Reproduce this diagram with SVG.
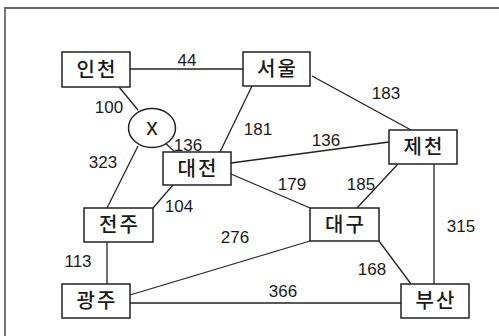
<svg xmlns="http://www.w3.org/2000/svg" width="499" height="336" viewBox="0 0 499 336">
<style>
.node rect,.node ellipse{fill:#fff;stroke:#222;stroke-width:1.5}
.node text{font-family:"Noto Sans CJK KR","Noto Sans",sans-serif;font-size:20px;font-weight:500;fill:#1a1a1a;text-anchor:middle;letter-spacing:2px}
#edges line{stroke:#222;stroke-width:1.3}
.lbl{font-family:"Liberation Sans",Arial,sans-serif;font-size:17px;fill:#1a1a1a;text-anchor:middle}
</style>
<rect width="499" height="336" fill="#fff"/>
<path d="M5,336 V8 H499" fill="none" stroke="#666" stroke-width="1.8"/>
<g id="edges">
<line x1="130" y1="69" x2="243" y2="69"/>
<line x1="119" y1="87" x2="138" y2="110"/>
<line x1="163" y1="141" x2="175" y2="152"/>
<line x1="138" y1="146" x2="107" y2="208"/>
<line x1="252" y1="86" x2="220" y2="152"/>
<line x1="312" y1="76" x2="411" y2="130"/>
<line x1="231" y1="163" x2="389" y2="142"/>
<line x1="231" y1="174" x2="310" y2="208"/>
<line x1="173" y1="185" x2="153" y2="208"/>
<line x1="398" y1="164" x2="357" y2="208"/>
<line x1="434" y1="164" x2="434" y2="284"/>
<line x1="379" y1="241" x2="411" y2="284"/>
<line x1="130" y1="295" x2="310" y2="241"/>
<line x1="130" y1="303" x2="401" y2="303"/>
<line x1="107" y1="242" x2="107" y2="284"/>
</g>
<g id="labels">
<text class="lbl" x="187" y="66">44</text>
<text class="lbl" x="109" y="113">100</text>
<text class="lbl" x="188" y="151">136</text>
<text class="lbl" x="103" y="168">323</text>
<text class="lbl" x="258" y="135">181</text>
<text class="lbl" x="386" y="99">183</text>
<text class="lbl" x="326" y="146">136</text>
<text class="lbl" x="179" y="212">104</text>
<text class="lbl" x="235" y="243">276</text>
<text class="lbl" x="78" y="267">113</text>
<text class="lbl" x="292" y="190">179</text>
<text class="lbl" x="361" y="190">185</text>
<text class="lbl" x="461" y="232">315</text>
<text class="lbl" x="372" y="275">168</text>
<text class="lbl" x="283" y="297">366</text>
</g>
<g id="incheon" class="node"><rect x="62" y="52" width="68" height="35"/><text x="97" y="77">인천</text></g>
<g id="seoul" class="node"><rect x="243" y="52" width="67" height="34"/><text x="277.5" y="76">서울</text></g>
<g id="x" class="node"><ellipse cx="152" cy="128" rx="23.5" ry="19.5"/><text x="152" y="135" style="font-family:'Liberation Sans',Arial,sans-serif;font-size:23px;font-weight:400;letter-spacing:0">x</text></g>
<g id="daejeon" class="node"><rect x="163" y="152" width="68" height="33"/><text x="198" y="176">대전</text></g>
<g id="jecheon" class="node"><rect x="389" y="130" width="68" height="34"/><text x="424" y="154">제천</text></g>
<g id="jeonju" class="node"><rect x="84" y="208" width="69" height="34"/><text x="119.5" y="232">전주</text></g>
<g id="daegu" class="node"><rect x="310" y="208" width="69" height="33"/><text x="345.5" y="232">대구</text></g>
<g id="gwangju" class="node"><rect x="62" y="284" width="68" height="34"/><text x="97" y="308">광주</text></g>
<g id="busan" class="node"><rect x="401" y="284" width="68" height="34"/><text x="436" y="308">부산</text></g>
</svg>
